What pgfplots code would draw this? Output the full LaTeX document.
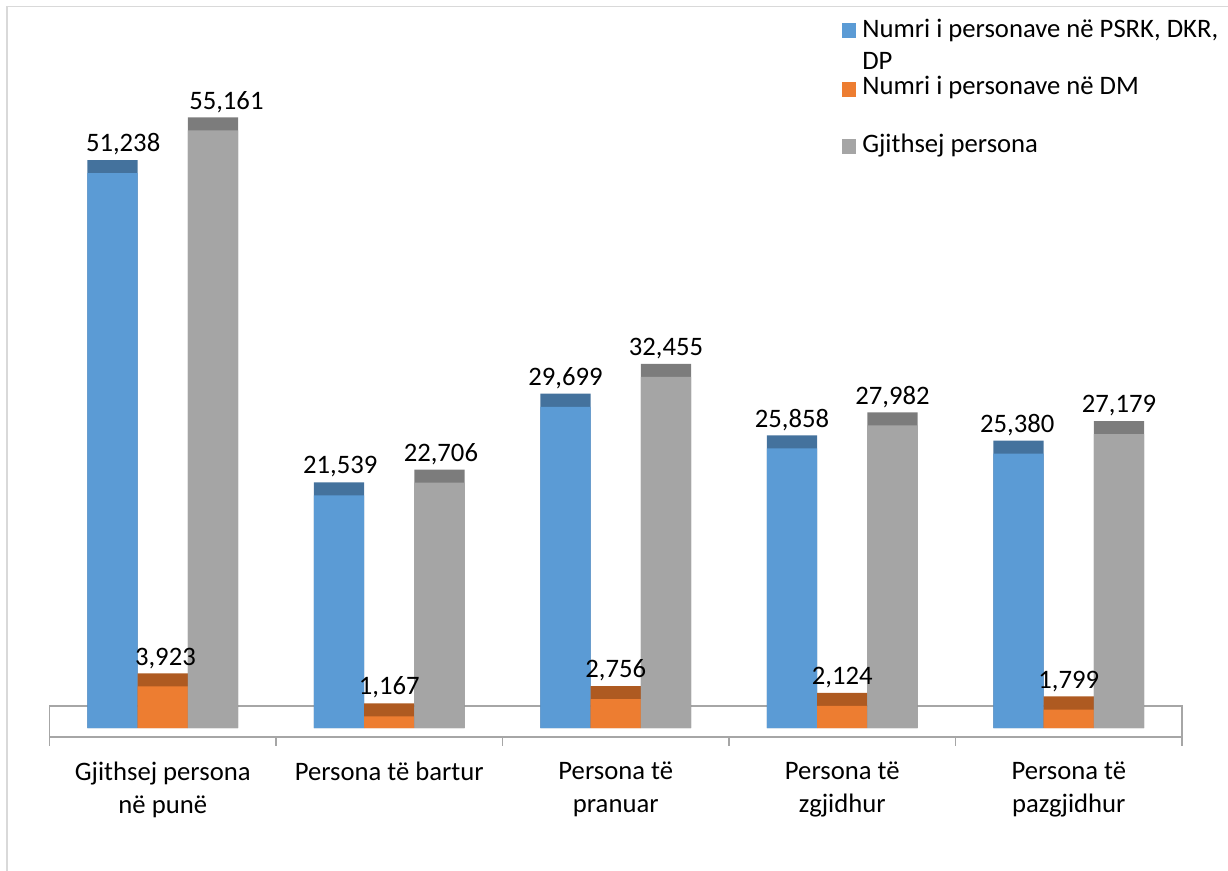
\documentclass[border=0pt]{standalone}
\usepackage{pgfplots}
\pgfplotsset{compat=1.18}
\usepackage{pgfplotstable}
\usepackage{fontspec}
\setmainfont{Carlito}
\definecolor{cblue}{HTML}{5B9BD5}
\definecolor{cbluedk}{HTML}{44729D}
\definecolor{corange}{HTML}{ED7D31}
\definecolor{corangedk}{HTML}{AE5A21}
\definecolor{cgray}{HTML}{A5A5A5}
\definecolor{cgraydk}{HTML}{7C7C7C}
\definecolor{framec}{HTML}{D9D9D9}
\definecolor{axisgray}{HTML}{A6A6A6}

% values; dx columns = horizontal offset (pt) of the value labels
\pgfplotstableread{
x blue orange gray dxb dxo dxg
0 51238 3923 55161 8 2 10
1 21539 1167 22706 1 0 1
2 29699 2756 32455 0 0 0
3 25858 2124 27982 0 0 0
4 25380 1799 27179 -1 0 0
}\data

\begin{document}
\begin{tikzpicture}[font=\fontsize{20}{24.5}\selectfont]
\path[use as bounding box] (0,0) rectangle (921pt,653.25pt);
\draw[framec, line width=1.2pt] (5.25pt,0) -- (5.25pt,648.4pt) -- (921pt,648.4pt);
\begin{axis}[
  at={(37.125pt,100.5pt)}, anchor=south west,
  scale only axis, width=849.4pt, height=505.5pt,
  xmin=-0.5, xmax=4.5, ymin=-829, ymax=61285,
  hide y axis, axis x line*=bottom,
  axis line style={axisgray, line width=1.2pt},
  xtick={0,1,2,3,4},
  xticklabels={{Gjithsej persona\\në punë},{Persona të bartur},{Persona të\\pranuar},{Persona të\\zgjidhur},{Persona të\\pazgjidhur}},
  xticklabel style={align=center, anchor=north, inner sep=0pt, yshift=-18.5pt, font=\fontsize{20}{24.5}\selectfont},
  major tick length=0pt,
  minor xtick={-0.5,0.5,1.5,2.5,3.5,4.5},
  minor tick length=6.5pt,
  tick align=outside,
  minor tick style={axisgray, line width=1.2pt},
  ybar, bar width=0.222,
  clip=false,
  nodes near coords style={font=\fontsize{20}{24}\selectfont, anchor=south, inner sep=0pt, yshift=3.5pt, text=black},
  /pgf/number format/.cd, fixed, precision=0, 1000 sep={,}, assume math mode=true,
]
\draw[axisgray, line width=1.2pt] (axis cs:-0.5,-829) rectangle (axis cs:4.5,2027);
% blue series
\addplot[fill=cbluedk, draw=none, bar shift=-0.222, nodes near coords, point meta=explicit,
  visualization depends on={\thisrow{dxb} \as \dx},
  every node near coord/.append style={xshift=\dx pt}]
  table[x=x, y expr=\thisrow{blue}+1106, meta=blue]{\data};
\addplot[fill=cblue, draw=none, bar shift=-0.222]
  table[x=x, y expr=\thisrow{blue}+1106-1200]{\data};
% orange series
\addplot[fill=corangedk, draw=none, bar shift=0, nodes near coords, point meta=explicit,
  visualization depends on={\thisrow{dxo} \as \dx},
  every node near coord/.append style={xshift=\dx pt}]
  table[x=x, y expr=\thisrow{orange}+1106, meta=orange]{\data};
\addplot[fill=corange, draw=none, bar shift=0]
  table[x=x, y expr=\thisrow{orange}+1106-1200]{\data};
% gray series
\addplot[fill=cgraydk, draw=none, bar shift=0.222, nodes near coords, point meta=explicit,
  visualization depends on={\thisrow{dxg} \as \dx},
  every node near coord/.append style={xshift=\dx pt}]
  table[x=x, y expr=\thisrow{gray}+1106, meta=gray]{\data};
\addplot[fill=cgray, draw=none, bar shift=0.222]
  table[x=x, y expr=\thisrow{gray}+1106-1200]{\data};
\end{axis}
% legend
\fill[cblue] (631.5pt,624.75pt) rectangle (642pt,636pt);
\fill[corange] (631.5pt,580.5pt) rectangle (642pt,591.75pt);
\fill[cgray] (631.5pt,537.75pt) rectangle (642pt,549pt);
\node[anchor=base west, inner sep=0pt] at (646.5pt,625.3pt) {Numri i personave në PSRK, DKR,};
\node[anchor=base west, inner sep=0pt] at (646.5pt,600.75pt) {DP};
\node[anchor=base west, inner sep=0pt] at (646.5pt,582pt) {Numri i personave në DM};
\node[anchor=base west, inner sep=0pt] at (646.5pt,538.5pt) {Gjithsej persona};
\end{tikzpicture}
\end{document}
